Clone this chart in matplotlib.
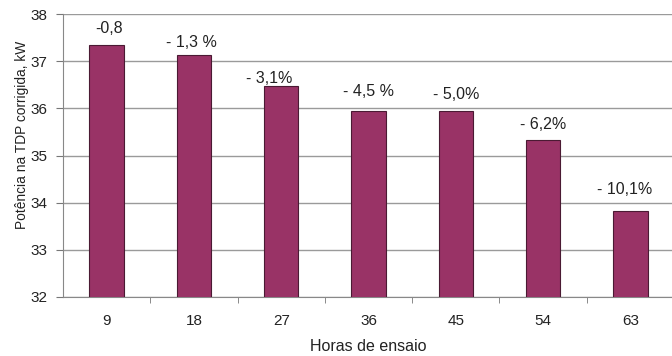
import numpy as np
import matplotlib.pyplot as plt

plt.rcParams['font.family'] = ['Liberation Sans', 'DejaVu Sans']

horas = ['9', '18', '27', '36', '45', '54', '63']
potencia = [37.35, 37.14, 36.47, 35.94, 35.94, 35.32, 33.83]
rotulos = ['-0,8', '- 1,3 %', '- 3,1%', '- 4,5 %', '- 5,0%', '- 6,2%', '- 10,1%']

# label offsets (points) to follow the hand placement in the original
dy = [11.5, 8.6, 5.8, 14.4, 12.2, 11.5, 15]
dx = [1.5, -2, -9, 0, 0, 0, -4]

fig = plt.figure(figsize=(6.72, 3.56), dpi=100)
ax = fig.add_axes([63 / 672, 1 - 297 / 356, 611 / 672, 283 / 356])

x = np.arange(len(horas))
ax.bar(x, potencia, width=0.395, bottom=0, color='#993366',
       edgecolor='#4a1a33', linewidth=0.8, zorder=3)

for i, (v, t) in enumerate(zip(potencia, rotulos)):
    ax.annotate(t, (x[i], v), xytext=(dx[i], dy[i]), textcoords='offset points',
                ha='center', va='center', fontsize=11.5, color='#222222')

ax.set_ylim(32, 38)
ax.set_xlim(-0.5, 6.5)
ax.set_yticks(np.arange(32, 39, 1))
ax.yaxis.grid(True, color='#9a9a9a', linewidth=1.0, zorder=0)
ax.set_axisbelow(True)

ax.set_xticks(x)
ax.set_xticklabels(horas)
ax.set_xticks(np.arange(0.5, 6.5, 1), minor=True)
ax.tick_params(axis='x', which='major', length=0, pad=12, labelsize=11, labelcolor='#222222')
ax.tick_params(axis='x', which='minor', length=4, color='#777777')
ax.tick_params(axis='y', length=5, color='#777777', labelsize=11, pad=6, labelcolor='#222222')

for s in ['top', 'right']:
    ax.spines[s].set_visible(False)
for s in ['left', 'bottom']:
    ax.spines[s].set_color('#888888')

ax.set_xlabel('Horas de ensaio', fontsize=11.5, labelpad=8, color='#222222')
ax.set_ylabel('Potência na TDP corrigida, kW', fontsize=9.9, color='#222222')
ax.yaxis.set_label_coords(-0.056, 0.572)

fig.savefig('out.png', dpi=100)
